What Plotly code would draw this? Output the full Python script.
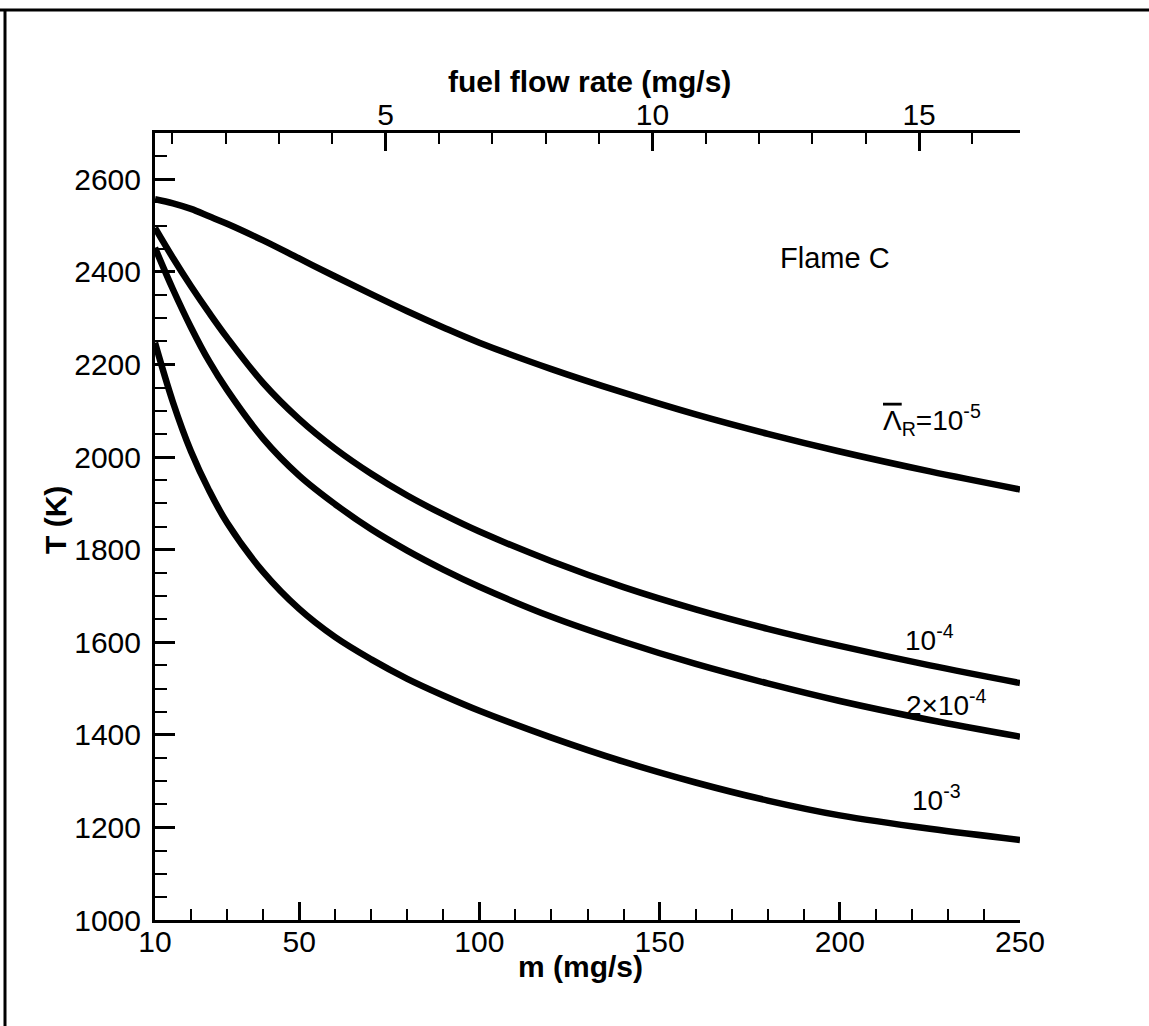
import plotly.graph_objects as go

# ---------------- data ----------------
m_flow = [10, 15, 20, 25, 30, 40, 50, 60, 70, 80, 90, 100, 120, 140, 160, 180, 200, 225, 250]

T_1e5 = [2557, 2548, 2536, 2520, 2504, 2468, 2429, 2390, 2352, 2315, 2280, 2247, 2190, 2139, 2092, 2050, 2012, 1969, 1930]
T_1e4 = [2495, 2430, 2369, 2312, 2258, 2160, 2082, 2018, 1964, 1917, 1876, 1839, 1775, 1719, 1671, 1629, 1592, 1550, 1512]
T_2e4 = [2452, 2362, 2280, 2207, 2145, 2040, 1960, 1898, 1844, 1798, 1757, 1720, 1655, 1601, 1553, 1511, 1473, 1432, 1396]
T_1e3 = [2247, 2118, 2012, 1928, 1858, 1752, 1672, 1611, 1563, 1521, 1485, 1452, 1394, 1342, 1297, 1258, 1226, 1197, 1173]

air_to_fuel = 14.8  # m / fuel flow rate

x_ticks = [10, 50, 100, 150, 200, 250]
x2_ticks = [5, 10, 15]
y_ticks = [1000, 1200, 1400, 1600, 1800, 2000, 2200, 2400, 2600]

curve_labels = ["<span style='text-decoration:overline'>Λ</span><sub>R</sub>=10<sup>-5</sup>",
                "10<sup>-4</sup>", "2×10<sup>-4</sup>", "10<sup>-3</sup>"]
label_m = [225.6, 224.8, 229.5, 226.7]
label_T = [2081, 1610, 1469, 1264]

title_text = "Flame C"
title_m, title_T = 198.7, 2431

x_title = "<b>m (mg/s)</b>"
x2_title = "<b>fuel flow rate (mg/s)</b>"
y_title = "<b>T (K)</b>"

# ---------------- figure ----------------
W, H = 1149, 1026
L, R, T, B = 155, 129, 133, 106
FONT = "Liberation Sans, Arial, sans-serif"
pw, ph = W - L - R, H - T - B


def px_x(px):
    return (px - L) / pw


def px_y(py):
    return (H - B - py) / ph


fig = go.Figure()
for series in [T_1e5, T_1e4, T_2e4, T_1e3]:
    fig.add_trace(go.Scatter(x=m_flow, y=series, mode="lines",
                             line=dict(color="black", width=6.5, shape="spline", smoothing=1.0),
                             showlegend=False, hoverinfo="skip"))

# helper trace so the top (fuel flow) axis is drawn
fig.add_trace(go.Scatter(x=[m / air_to_fuel for m in m_flow], y=[None] * len(m_flow),
                         xaxis="x2", mode="lines", showlegend=False, hoverinfo="skip"))

for txt, xm, yt in zip(curve_labels, label_m, label_T):
    fig.add_annotation(x=xm, y=yt, xref="x", yref="y", text=txt, showarrow=False,
                       xanchor="center", yanchor="middle",
                       font=dict(family=FONT, size=28, color="black"))
fig.add_annotation(x=title_m, y=title_T, xref="x", yref="y", text=title_text, showarrow=False,
                   xanchor="center", yanchor="middle",
                   font=dict(family=FONT, size=29, color="black"))

titlefont = dict(family=FONT, size=30, color="black")
fig.add_annotation(x=px_x(580), y=px_y(966), xref="paper", yref="paper", text=x_title,
                   showarrow=False, xanchor="center", yanchor="middle", font=titlefont)
fig.add_annotation(x=px_x(589), y=px_y(81), xref="paper", yref="paper", text=x2_title,
                   showarrow=False, xanchor="center", yanchor="middle", font=titlefont)
fig.add_annotation(x=px_x(55), y=px_y(520), xref="paper", yref="paper", text=y_title,
                   showarrow=False, xanchor="center", yanchor="middle", font=titlefont, textangle=-90)

tickfont = dict(family=FONT, size=30, color="black")

fig.update_layout(
    width=W, height=H,
    margin=dict(l=L, r=R, t=T, b=B, autoexpand=False),
    paper_bgcolor="white", plot_bgcolor="white",
    xaxis=dict(range=[10, 250], tickmode="array", tickvals=x_ticks,
               ticks="inside", ticklen=18, tickwidth=2.5, tickcolor="black",
               minor=dict(dtick=10, tick0=0, ticks="inside", ticklen=11, tickwidth=2, tickcolor="black"),
               showline=True, linewidth=3, linecolor="black", mirror=False,
               showgrid=False, zeroline=False, tickfont=tickfont, ticklabelstandoff=-7),
    xaxis2=dict(range=[10 / air_to_fuel, 250 / air_to_fuel], overlaying="x", side="top",
                tickmode="array", tickvals=x2_ticks,
                ticks="inside", ticklen=18, tickwidth=2.5, tickcolor="black",
                minor=dict(dtick=1, tick0=0, ticks="inside", ticklen=11, tickwidth=2, tickcolor="black"),
                showline=True, linewidth=3, linecolor="black", mirror=False,
                showgrid=False, zeroline=False, tickfont=tickfont, ticklabelstandoff=-7),
    yaxis=dict(range=[1000, 2700], tickmode="array", tickvals=y_ticks,
               ticks="inside", ticklen=20, tickwidth=2.5, tickcolor="black",
               minor=dict(dtick=50, tick0=0, ticks="inside", ticklen=12, tickwidth=2, tickcolor="black"),
               showline=True, linewidth=3, linecolor="black", mirror=False,
               showgrid=False, zeroline=False, tickfont=tickfont, ticklabelstandoff=5),
)

# outer frame lines (top and left edges of the scanned page)
fig.add_shape(type="line", xref="paper", yref="paper", x0=px_x(0), x1=px_x(W), y0=px_y(10), y1=px_y(10),
              line=dict(color="black", width=3))
fig.add_shape(type="line", xref="paper", yref="paper", x0=px_x(5), x1=px_x(5), y0=px_y(10), y1=px_y(H),
              line=dict(color="black", width=3))

fig.write_html("out.html")
